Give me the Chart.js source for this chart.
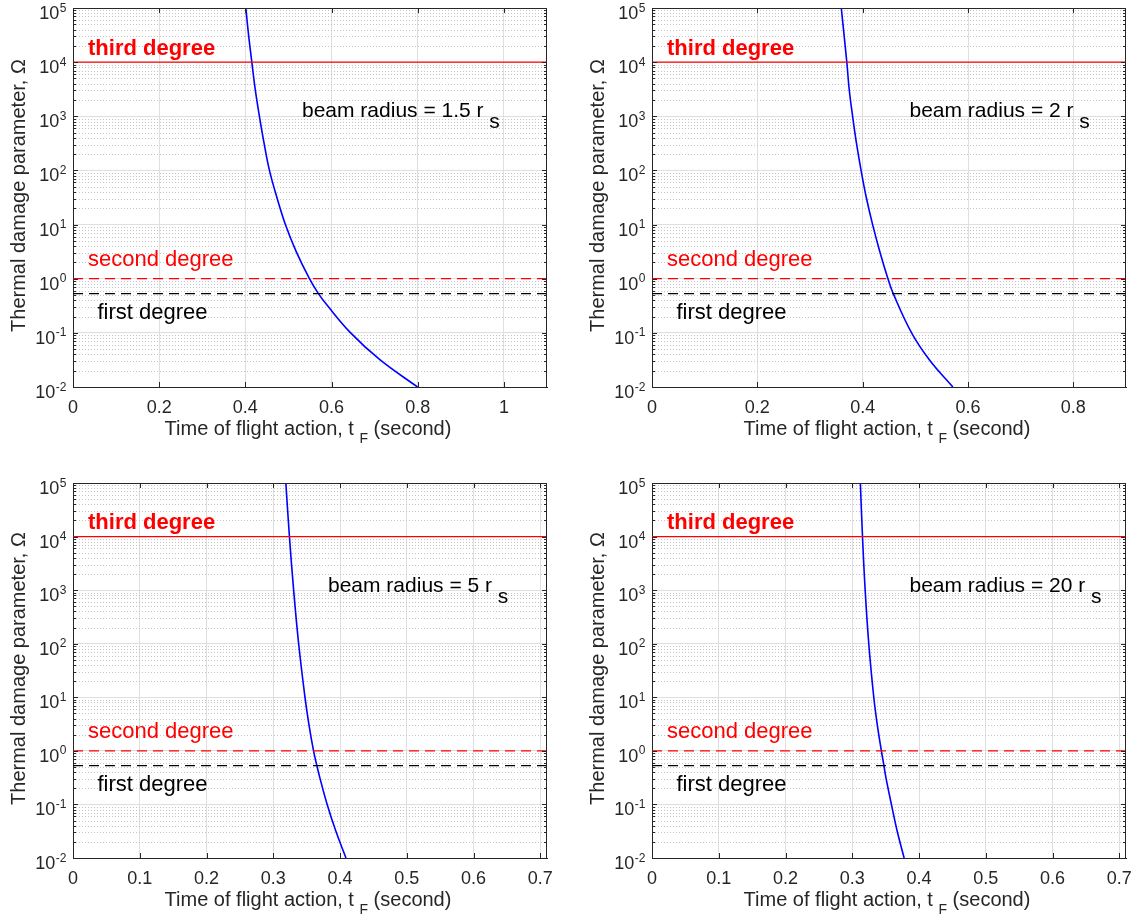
<!DOCTYPE html>
<html>
<head>
<meta charset="utf-8">
<script src="https://cdn.jsdelivr.net/npm/chart.js@4.4.1/dist/chart.umd.min.js"></script>
<style>
  html, body { margin: 0; padding: 0; background: #fff; }
  #wrap { position: relative; width: 1133px; height: 919px; }
  canvas { position: absolute; }
</style>
</head>
<body>
<div id="wrap">
  <canvas id="c1" style="left:0;top:0" width="566" height="460"></canvas>
  <canvas id="c2" style="left:566px;top:0" width="567" height="460"></canvas>
  <canvas id="c3" style="left:0;top:460px" width="566" height="459"></canvas>
  <canvas id="c4" style="left:566px;top:460px" width="567" height="459"></canvas>
</div>
<script>
// Damage thresholds (thermal damage parameter)
const thirdDegree = 1e4;
const secondDegree = 1;
const firstDegree = 0.53;

// beam radius = 1.5 rs
const tA = [0.401, 0.4075, 0.415, 0.4228, 0.4326, 0.4435, 0.4559, 0.4732, 0.4929, 0.518, 0.5487, 0.5695, 0.5908, 0.6443, 0.7128, 0.7995];
const omegaA = [1e5, 3.16e4, 1e4, 3.16e3, 1e3, 316, 100, 31.6, 10, 3.16, 1, 0.53, 0.316, 0.1, 0.0316, 0.01];
// beam radius = 2 rs
const tB = [0.3594, 0.3699, 0.3744, 0.3809, 0.3883, 0.397, 0.4069, 0.4189, 0.4326, 0.448, 0.4581, 0.4929, 0.5269, 0.5713];
const omegaB = [1e5, 1e4, 3.16e3, 1e3, 316, 100, 31.6, 10, 3.16, 1, 0.53, 0.1, 0.0316, 0.01];
// beam radius = 5 rs
const tC = [0.3188, 0.3242, 0.3305, 0.338, 0.3475, 0.3533, 0.3603, 0.3653, 0.3697, 0.3807, 0.3938, 0.4089];
const omegaC = [1e5, 1e4, 1e3, 100, 10, 3.16, 1, 0.53, 0.316, 0.1, 0.0316, 0.01];
// beam radius = 20 rs
const tD = [0.3121, 0.3153, 0.3193, 0.3247, 0.3322, 0.3373, 0.3436, 0.3474, 0.3504, 0.3586, 0.3673, 0.3777];
const omegaD = [1e5, 1e4, 1e3, 100, 10, 3.16, 1, 0.53, 0.316, 0.1, 0.0316, 0.01];

// Tick values and labels
const xTicksA = [0, 0.2, 0.4, 0.6, 0.8, 1];
const xLabelsA = ['0', '0.2', '0.4', '0.6', '0.8', '1'];
const xTicksB = [0, 0.2, 0.4, 0.6, 0.8];
const xLabelsB = ['0', '0.2', '0.4', '0.6', '0.8'];
const xTicksC = [0, 0.1, 0.2, 0.3, 0.4, 0.5, 0.6, 0.7];
const xLabelsC = ['0', '0.1', '0.2', '0.3', '0.4', '0.5', '0.6', '0.7'];
const yDecades = [0.01, 0.1, 1, 10, 100, 1000, 10000, 100000];
const yExponents = ['-2', '-1', '0', '1', '2', '3', '4', '5'];

const radiusLabels = ['1.5', '2', '5', '20'];

const INK = '#262626';
const FONT = '"Liberation Sans", Arial, Helvetica, sans-serif';

// minor log grid positions (2..9 of each decade)
const minorValues = [];
yDecades.slice(0, -1).forEach(d => { for (let m = 2; m <= 9; m++) minorValues.push(m * d); });

const decor = {
  id: 'decor',
  beforeDatasetsDraw(chart) {
    const { ctx, chartArea: a, scales: { y } } = chart;
    ctx.save();
    ctx.strokeStyle = '#c4c4c4';
    ctx.lineWidth = 1;
    ctx.setLineDash([1, 2]);
    minorValues.forEach(v => {
      const py = Math.round(y.getPixelForValue(v)) + 0.5;
      ctx.beginPath(); ctx.moveTo(a.left, py); ctx.lineTo(a.right, py); ctx.stroke();
    });
    ctx.restore();
  },
  afterDatasetsDraw(chart) {
    const { ctx, chartArea: a, scales: { x, y } } = chart;
    const p = chart.options.plugins.decor;
    ctx.save();
    // box top / right
    ctx.strokeStyle = INK;
    ctx.lineWidth = 1;
    ctx.beginPath();
    ctx.moveTo(a.left, a.top + 0.5); ctx.lineTo(a.right, a.top + 0.5);
    ctx.moveTo(a.right - 0.5, a.top); ctx.lineTo(a.right - 0.5, a.bottom);
    // inward tick marks
    x.ticks.forEach(t => {
      const px = Math.round(x.getPixelForValue(t.value)) + 0.5;
      ctx.moveTo(px, a.bottom); ctx.lineTo(px, a.bottom - 5);
      ctx.moveTo(px, a.top); ctx.lineTo(px, a.top + 5);
    });
    yDecades.forEach(v => {
      const py = Math.round(y.getPixelForValue(v)) + 0.5;
      ctx.moveTo(a.left, py); ctx.lineTo(a.left + 5, py);
      ctx.moveTo(a.right, py); ctx.lineTo(a.right - 5, py);
    });
    minorValues.forEach(v => {
      const py = Math.round(y.getPixelForValue(v)) + 0.5;
      ctx.moveTo(a.left, py); ctx.lineTo(a.left + 3, py);
      ctx.moveTo(a.right, py); ctx.lineTo(a.right - 3, py);
    });
    ctx.stroke();

    // y tick labels 10^n
    ctx.fillStyle = INK;
    ctx.textAlign = 'right';
    ctx.textBaseline = 'alphabetic';
    yDecades.forEach((v, i) => {
      const py = y.getPixelForValue(v);
      ctx.font = '12px ' + FONT;
      const ew = ctx.measureText(yExponents[i]).width;
      ctx.fillText(yExponents[i], a.left - 6.5, py + 3.5);
      ctx.font = '18px ' + FONT;
      ctx.fillText('10', a.left - 7 - ew, py + 11);
    });

    // axis titles
    ctx.font = '20px ' + FONT;
    ctx.textAlign = 'center';
    ctx.textBaseline = 'middle';
    ctx.save();
    ctx.translate(a.left - 54, (a.top + a.bottom) / 2 - 2);
    ctx.rotate(-Math.PI / 2);
    ctx.fillText('Thermal damage parameter, \u03A9', 0, 0);
    ctx.restore();

    ctx.textAlign = 'left';
    ctx.textBaseline = 'alphabetic';
    const part1 = 'Time of flight action, t ';
    const part3 = ' (second)';
    ctx.font = '20px ' + FONT;
    const w1 = ctx.measureText(part1).width, w3 = ctx.measureText(part3).width;
    ctx.font = '14px ' + FONT;
    const w2 = ctx.measureText('F').width;
    let sx = (a.left + a.right) / 2 - 2 - (w1 + w2 + w3) / 2;
    const by = a.bottom + 48;
    ctx.font = '20px ' + FONT;
    ctx.fillText(part1, sx, by);
    ctx.font = '14px ' + FONT;
    ctx.fillText('F', sx + w1, by + 8);
    ctx.font = '20px ' + FONT;
    ctx.fillText(part3, sx + w1 + w2, by);

    // degree annotations
    ctx.fillStyle = '#ff0000';
    ctx.font = 'bold 22px ' + FONT;
    ctx.fillText('third degree', a.left + 15, y.getPixelForValue(thirdDegree) - 7.5);
    ctx.font = '22px ' + FONT;
    ctx.fillText('second degree', a.left + 15, y.getPixelForValue(secondDegree) - 13);
    ctx.fillStyle = '#000000';
    ctx.fillText('first degree', a.left + 24.5, y.getPixelForValue(firstDegree) + 25);

    // beam radius label
    ctx.font = '21px ' + FONT;
    const main = 'beam radius = ' + p.radius + ' r ';
    const bx = a.left + p.beamOffset;
    const bby = a.top + 109;
    ctx.fillText(main, bx, bby);
    ctx.fillText('s', bx + ctx.measureText(main).width, bby + 11);
    ctx.restore();
  }
};

function line(v, xMax) {
  return [{ x: 0, y: v }, { x: xMax, y: v }];
}

function buildPanel(id, t, omega, xTicks, xLabels, xMax, radius, lay) {
  const ctx = document.getElementById(id).getContext('2d');
  return new Chart(ctx, {
    type: 'line',
    data: {
      datasets: [
        { data: line(thirdDegree, xMax), borderColor: '#ff0000', borderWidth: 1.3 },
        { data: line(secondDegree, xMax), borderColor: '#ff0000', borderWidth: 1.2, borderDash: [10, 6] },
        { data: line(firstDegree, xMax), borderColor: '#000000', borderWidth: 1.2, borderDash: [10, 6] },
        {
          data: t.map((v, i) => ({ x: v, y: omega[i] })),
          borderColor: '#0000ff', borderWidth: 1.6, tension: 0.4
        }
      ]
    },
    options: {
      responsive: false,
      animation: false,
      devicePixelRatio: 1,
      layout: { padding: { top: lay.top, right: lay.right, left: 0, bottom: 0 } },
      elements: { point: { radius: 0 }, line: { fill: false } },
      plugins: {
        legend: { display: false },
        tooltip: { enabled: false },
        decor: { radius: radius, beamOffset: lay.beam }
      },
      scales: {
        x: {
          type: 'linear', min: 0, max: xMax,
          afterBuildTicks: s => { s.ticks = xTicks.map(v => ({ value: v })); },
          afterFit: s => { s.height = lay.xh; s.paddingLeft = 0; s.paddingRight = 0; },
          grid: { color: '#dfdfdf', drawTicks: false },
          border: { color: INK, width: 1 },
          ticks: {
            color: INK, padding: 10, maxRotation: 0, autoSkip: false,
            font: { family: FONT, size: 18 },
            callback: (val, i) => xLabels[i]
          }
        },
        y: {
          type: 'logarithmic', min: 0.01, max: 1e5,
          afterBuildTicks: s => { s.ticks = yDecades.map(v => ({ value: v })); },
          afterFit: s => { s.width = lay.yw; s.paddingTop = 0; s.paddingBottom = 0; },
          grid: { color: '#dfdfdf', drawTicks: false },
          border: { color: INK, width: 1 },
          ticks: { display: false }
        }
      }
    },
    plugins: [decor]
  });
}

buildPanel('c1', tA, omegaA, xTicksA, xLabelsA, 1.1, radiusLabels[0], { top: 8, right: 19, yw: 73, xh: 73, beam: 229 });
buildPanel('c2', tB, omegaB, xTicksB, xLabelsB, 0.9, radiusLabels[1], { top: 8, right: 7, yw: 86, xh: 73, beam: 257.5 });
buildPanel('c3', tC, omegaC, xTicksC, xLabelsC, 0.71, radiusLabels[2], { top: 23, right: 19, yw: 73, xh: 61, beam: 255 });
buildPanel('c4', tD, omegaD, xTicksC, xLabelsC, 0.71, radiusLabels[3], { top: 23, right: 7, yw: 86, xh: 61, beam: 257.5 });
</script>
</body>
</html>
